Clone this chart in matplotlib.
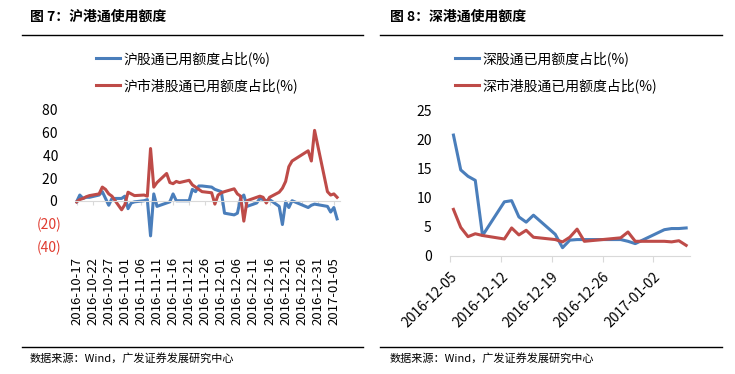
import matplotlib
matplotlib.use('Agg')
import matplotlib.pyplot as plt
import matplotlib.dates as mdates
from matplotlib.lines import Line2D
import pandas as pd

plt.rcParams['font.family'] = ['Noto Sans CJK SC', 'DejaVu Sans']

BLUE = '#4A7EBB'
RED = '#BE4B48'
NEG_RED = '#E03A2E'
GREY = '#D9D9D9'

# 沪港通 (daily, trading days)
sh_dates = [
    '2016-10-17', '2016-10-18', '2016-10-19', '2016-10-20', '2016-10-21',
    '2016-10-24', '2016-10-25', '2016-10-26', '2016-10-27', '2016-10-28',
    '2016-10-31', '2016-11-01', '2016-11-02', '2016-11-03', '2016-11-04',
    '2016-11-07', '2016-11-08', '2016-11-09', '2016-11-10', '2016-11-11',
    '2016-11-14', '2016-11-15', '2016-11-16', '2016-11-17', '2016-11-18',
    '2016-11-21', '2016-11-22', '2016-11-23', '2016-11-24', '2016-11-25',
    '2016-11-28', '2016-11-29', '2016-11-30', '2016-12-01', '2016-12-02',
    '2016-12-05', '2016-12-06', '2016-12-07', '2016-12-08', '2016-12-09',
    '2016-12-12', '2016-12-13', '2016-12-14', '2016-12-15', '2016-12-16',
    '2016-12-19', '2016-12-20', '2016-12-21', '2016-12-22', '2016-12-23',
    '2016-12-28', '2016-12-29', '2016-12-30',
    '2017-01-03', '2017-01-04', '2017-01-05', '2017-01-06',
]
sh_north = [
    -1, 5, 2, 3, 3,
    5, 8, 2, -4, 2,
    2, 4, -7, -2, -1,
    0, 1, -31, 6, -5,
    -2, -1, 6, 0, 0,
    0, 10, 8, 13, 13,
    12, 10, 9, 8, -11,
    -12.5, -11, 2, 5, -5,
    -2, 2, 1, 0, 1,
    -5, -21, -1, -6, 0,
    -6, -4, -3,
    -5, -10, -6, -16,
]
sh_south = [
    -1, 1, 2, 3.5, 4.5,
    6, 12, 10, 6, 4,
    -8, -3.5, 7.5, 6, 4.5,
    5, 4, 46, 12, 16,
    24, 16, 15, 17, 16,
    18, 14, 12, 10, 8,
    7, -3, 5, 7, 8,
    10.5, 6, 4, -18, 0,
    3, 4, 3, -2, 3,
    7.5, 11, 17, 30, 35,
    44, 35, 62,
    8, 5, 6, 3,
]
sh_ticks = ['2016-10-17', '2016-10-22', '2016-10-27', '2016-11-01', '2016-11-06',
            '2016-11-11', '2016-11-16', '2016-11-21', '2016-11-26', '2016-12-01',
            '2016-12-06', '2016-12-11', '2016-12-16', '2016-12-21', '2016-12-26',
            '2016-12-31', '2017-01-05']
sh_yticks = [-40, -20, 0, 20, 40, 60, 80]

# 深港通
sz_dates = [
    '2016-12-05', '2016-12-06', '2016-12-07', '2016-12-08', '2016-12-09',
    '2016-12-12', '2016-12-13', '2016-12-14', '2016-12-15', '2016-12-16',
    '2016-12-19', '2016-12-20', '2016-12-21', '2016-12-22', '2016-12-23',
    '2016-12-28', '2016-12-29', '2016-12-30',
    '2017-01-03', '2017-01-04', '2017-01-05', '2017-01-06',
]
sz_north = [20.8, 14.8, 13.7, 13.0, 3.5,
            9.3, 9.5, 6.7, 5.8, 7.0,
            3.7, 1.4, 2.7, 2.8, 2.8,
            2.8, 2.5, 2.1,
            4.5, 4.7, 4.7, 4.8]
sz_south = [8.0, 4.9, 3.3, 3.8, 3.5,
            2.9, 4.8, 3.6, 4.4, 3.2,
            2.8, 2.4, 3.2, 4.6, 2.5,
            3.1, 4.1, 2.5,
            2.5, 2.4, 2.6, 1.8]
sz_ticks = ['2016-12-05', '2016-12-12', '2016-12-19', '2016-12-26', '2017-01-02']
sz_yticks = [0, 5, 10, 15, 20, 25]


def fmt_neg(v):
    return f'({abs(v)})' if v < 0 else f'{v} '


fig = plt.figure(figsize=(7.35, 3.74), dpi=100)

# ---- left: 沪港通 ----
ax1 = fig.add_axes([0.102, 0.342, 0.361, 0.364])
x1 = pd.to_datetime(sh_dates)
ax1.plot(x1, sh_north, color=BLUE, lw=2.2, label='沪股通已用额度占比(%)')
ax1.plot(x1, sh_south, color=RED, lw=2.2, label='沪市港股通已用额度占比(%)')
ax1.set_xlim(pd.Timestamp('2016-10-16 12:00'), pd.Timestamp('2017-01-07'))
ax1.set_ylim(-40, 80)
ax1.set_yticks(sh_yticks, [fmt_neg(v) for v in sh_yticks])
for lab, v in zip(ax1.get_yticklabels(), sh_yticks):
    if v < 0:
        lab.set_color(NEG_RED)
ax1.tick_params(axis='y', length=0, pad=10, labelsize=10)

tick_nums = mdates.date2num(pd.to_datetime(sh_ticks))
ax1.set_xticks(tick_nums)
ax1.spines['bottom'].set_position(('data', 0))
ax1.spines['bottom'].set_color(GREY)
ax1.tick_params(axis='x', direction='out', length=3, color=GREY, labelbottom=False)
sec = ax1.secondary_xaxis('bottom')
sec.set_xticks(tick_nums, [pd.Timestamp(t).strftime('%Y-%m-%d') for t in sh_ticks])
sec.tick_params(length=0, pad=8, labelsize=9.5, labelrotation=90)
for s in sec.spines.values():
    s.set_visible(False)
for s in ['left', 'right', 'top']:
    ax1.spines[s].set_visible(False)

leg_kw = dict(bbox_transform=fig.transFigure, frameon=False, fontsize=10,
              handlelength=1.75, handletextpad=0.2, labelspacing=0.9,
              borderpad=0, borderaxespad=0, loc='upper left')
ax1.legend(bbox_to_anchor=(96 / 735, 1 - 51 / 374), **leg_kw)

# ---- right: 深港通 ----
ax2 = fig.add_axes([0.612, 0.316, 0.3265, 0.388])
x2 = pd.to_datetime(sz_dates) + pd.Timedelta(hours=12)
ax2.plot(x2, sz_north, color=BLUE, lw=2.2, label='深股通已用额度占比(%)')
ax2.plot(x2, sz_south, color=RED, lw=2.2, label='深市港股通已用额度占比(%)')
ax2.set_xlim(pd.Timestamp('2016-12-05'), pd.Timestamp('2017-01-07'))
ax2.set_ylim(0, 25)
ax2.set_yticks(sz_yticks)
ax2.tick_params(axis='y', length=0, pad=13, labelsize=10)
ax2.set_xticks(pd.to_datetime(sz_ticks))
ax2.xaxis.set_major_formatter(mdates.DateFormatter('%Y-%m-%d'))
ax2.tick_params(axis='x', direction='out', length=4, color=GREY, pad=6, labelsize=10)
for lab in ax2.get_xticklabels():
    lab.set_rotation(45)
    lab.set_ha('right')
    lab.set_va('top')
    lab.set_rotation_mode('anchor')
ax2.spines['bottom'].set_color(GREY)
for s in ['left', 'right', 'top']:
    ax2.spines[s].set_visible(False)

ax2.legend(bbox_to_anchor=(455 / 735, 1 - 51 / 374), **leg_kw)

# ---- titles, rules, sources ----
fig.text(30 / 735, 1 - 17 / 374, '图 7：沪港通使用额度', fontsize=10, fontweight='bold', va='center')
fig.text(390 / 735, 1 - 17 / 374, '图 8：深港通使用额度', fontsize=10, fontweight='bold', va='center')
for xa, xb in [(22, 363), (380, 722)]:
    for yy in [35, 347]:
        fig.add_artist(Line2D([xa / 735, xb / 735], [1 - yy / 374, 1 - yy / 374],
                              color='black', lw=1))
fig.text(30 / 735, 1 - 358 / 374, '数据来源：Wind，广发证券发展研究中心', fontsize=8, va='center')
fig.text(390 / 735, 1 - 358 / 374, '数据来源：Wind，广发证券发展研究中心', fontsize=8, va='center')

fig.savefig('out.png', dpi=100)
